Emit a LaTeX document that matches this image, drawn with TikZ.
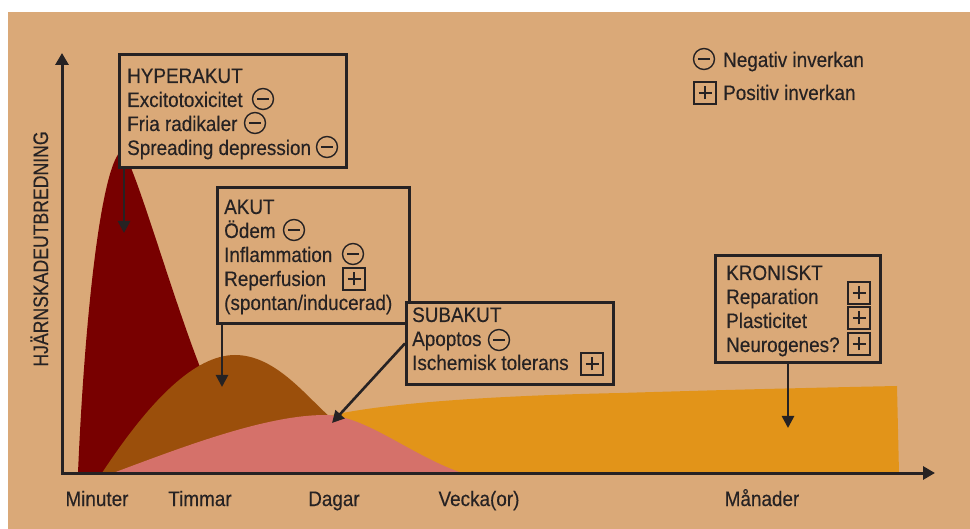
\documentclass[tikz,border=0pt]{standalone}
\usepackage{fontspec}
\setmainfont{Liberation Sans}[FakeStretch=0.9, FakeBold=0.3]
\newfontfamily\capfont{Liberation Sans}[FakeStretch=0.84, FakeBold=0.3]
\usetikzlibrary{arrows.meta}
\definecolor{bg}{HTML}{DAA978}
\definecolor{ink}{HTML}{262223}
\definecolor{dred}{HTML}{780000}
\definecolor{brn}{HTML}{9B4F0B}
\definecolor{pnk}{HTML}{D5716A}
\definecolor{orng}{HTML}{E29419}
\tikzset{
  panel/.style={draw=ink, line width=2.8pt, fill=bg, anchor=north west, inner sep=0pt},
  txt/.style={anchor=base west, inner sep=0pt},
  axlab/.style={anchor=base, inner sep=0pt},
  minuscirc/.style={circle, draw=ink, line width=1.4pt, minimum size=21pt, inner sep=0pt,
    path picture={\draw[ink, line width=1.4pt] ([xshift=-6pt]path picture bounding box.center) -- ([xshift=6pt]path picture bounding box.center);}},
  plusbox/.style={rectangle, draw=ink, line width=1.4pt, minimum size=22pt, inner sep=0pt,
    path picture={\draw[ink, line width=1.4pt] ([xshift=-6.5pt]path picture bounding box.center) -- ([xshift=6.5pt]path picture bounding box.center)
      ([yshift=-6.5pt]path picture bounding box.center) -- ([yshift=6.5pt]path picture bounding box.center);}},
  arr/.style={draw=ink, line width=2.6pt, -{Triangle[length=12pt,width=12pt]}},
  ax/.style={draw=ink, line width=3pt, {Triangle[length=12pt,width=13pt]}-{Triangle[length=12pt,width=13pt]}}
}
\begin{document}
\begin{tikzpicture}[x=1pt,y=-1pt, every node/.style={text=ink, font=\fontsize{21}{24}\selectfont}]
\useasboundingbox (0,0) rectangle (970,529);
\fill[white] (0,0) rectangle (970,529);
\fill[bg] (8,12) rectangle (970,529);

% curves
\fill[orng] (330,473) -- (328,416) .. controls (380,404) and (480,396) .. (620,393)
  .. controls (720,390) and (800,388) .. (897,386) -- (899,473) -- cycle;
\fill[dred] (78,473) .. controls (84,330) and (100,165) .. (122,150)
  .. controls (135,165) and (170,290) .. (200,367) -- (245,473) -- cycle;
\fill[brn] (102,473) .. controls (150,400) and (195,355) .. (235,355)
  .. controls (275,355) and (305,395) .. (330,417) -- (330,473) -- cycle;
\fill[pnk] (113,473) .. controls (180,448) and (265,415) .. (325,415)
  .. controls (365,415) and (410,455) .. (462,473) -- cycle;

% axes
\coordinate (O) at (62,473);
\coordinate (ytip) at (62,53);
\coordinate (xtip) at (935,473);
\draw[ax] (ytip) -- (O) -- (xtip);

\node[axlab] (lmin) at (97,506) {Minuter};
\node[axlab] (ltim) at (200,506) {Timmar};
\node[axlab] (ldag) at (334,506) {Dagar};
\node[axlab] (lvec) at (479,506) {Vecka(or)};
\node[axlab] (lman) at (762,506) {Månader};
\node[rotate=90, anchor=base, inner sep=0pt, font=\capfont\fontsize{21}{22}\selectfont] (ylab) at (48,249) {HJÄRNSKADEUTBREDNING};

% legend
\node[minuscirc] (lgneg) at (704,59) {};
\node[txt] (lgnegt) at (723,67) {Negativ inverkan};
\node[plusbox] (lgpos) at (705,93) {};
\node[txt] (lgpost) at (723,100) {Positiv inverkan};

% HYPERAKUT
\node[panel, minimum width=227pt, minimum height=113pt] (hyp) at (118,53) {};
\node[txt] (h0) at (127,83) {HYPERAKUT};
\node[txt] (h1) at (127,107) {Excitotoxicitet};
\node[txt] (h2) at (127,131) {Fria radikaler};
\node[txt] (h3) at (127,155) {Spreading depression};
\node[minuscirc] (h1s) at (263,99) {};
\node[minuscirc] (h2s) at (255,123) {};
\node[minuscirc] (h3s) at (327,147) {};

% AKUT
\node[panel, minimum width=192pt, minimum height=136pt] (akut) at (216,186) {};
\node[txt] (a0) at (224,214) {AKUT};
\node[txt] (a1) at (224,238) {Ödem};
\node[txt] (a2) at (224,262) {Inflammation};
\node[txt] (a3) at (224,286) {Reperfusion};
\node[txt] (a4) at (224,310) {(spontan/inducerad)};
\node[minuscirc] (a1s) at (294,230) {};
\node[minuscirc] (a2s) at (353,254) {};
\node[plusbox] (a3s) at (354,279) {};

% SUBAKUT
\node[panel, minimum width=207pt, minimum height=82pt] (sub) at (405,301) {};
\node[txt] (s0) at (412,322) {SUBAKUT};
\node[txt] (s1) at (412,346) {Apoptos};
\node[txt] (s2) at (412,370) {Ischemisk tolerans};
\node[minuscirc] (s1s) at (499,340) {};
\node[plusbox] (s2s) at (592,364) {};

% KRONISKT
\node[panel, minimum width=165pt, minimum height=107pt] (kron) at (714,254) {};
\node[txt] (k0) at (726,280) {KRONISKT};
\node[txt] (k1) at (726,304) {Reparation};
\node[txt] (k2) at (726,328) {Plasticitet};
\node[txt] (k3) at (726,352) {Neurogenes?};
\node[plusbox] (k1s) at (859,293) {};
\node[plusbox] (k2s) at (859,318) {};
\node[plusbox] (k3s) at (859,344) {};

% pointers
\coordinate (hypT) at (124,233);
\coordinate (akutT) at (222,387);
\coordinate (subT) at (332,423);
\coordinate (kronT) at (788,428);
\draw[arr] (hyp.south -| hypT) -- (hypT);
\draw[arr] (akut.south -| akutT) -- (akutT);
\draw[arr] (sub.west) -- (subT);
\draw[arr] (kron.south -| kronT) -- (kronT);
\end{tikzpicture}
\end{document}
